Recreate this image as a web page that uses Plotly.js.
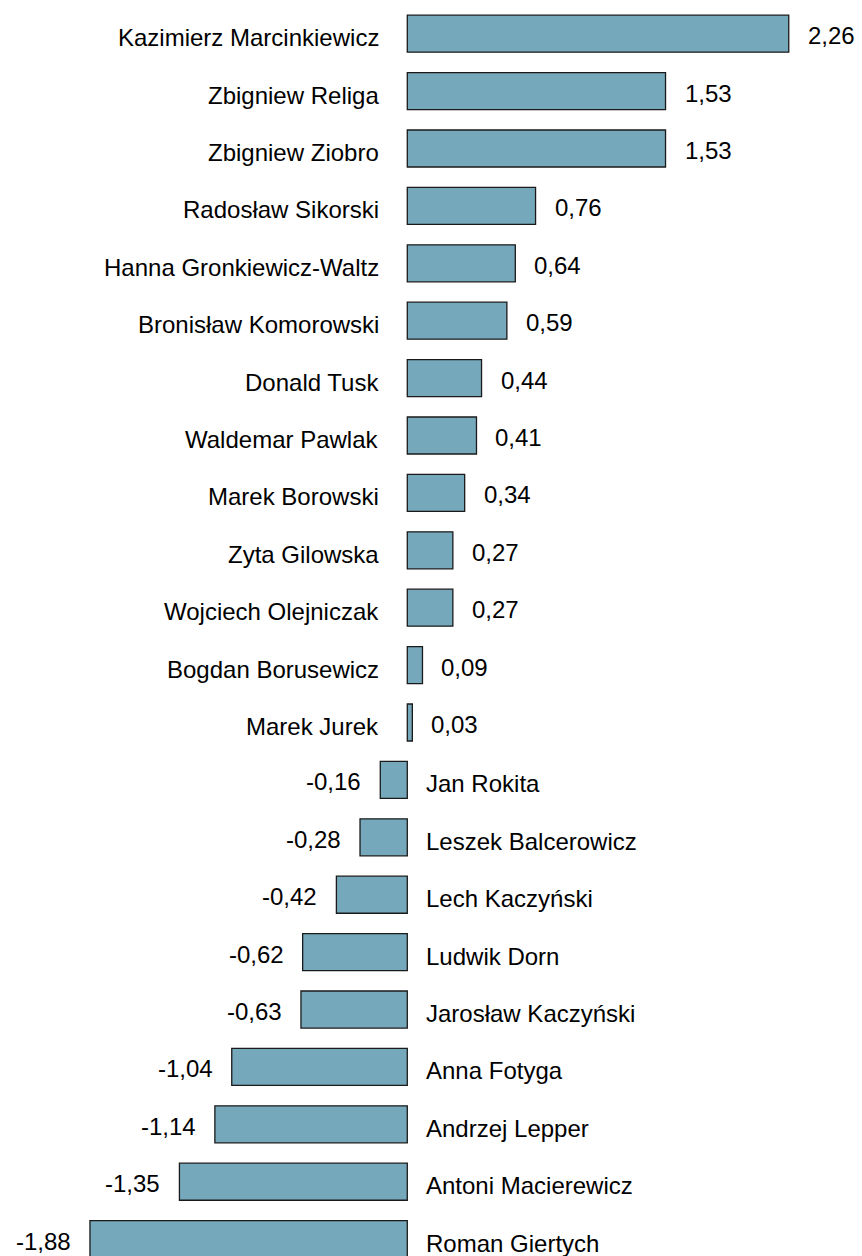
<!DOCTYPE html>
<html>
<head>
<meta charset="utf-8">
<script src="https://cdn.plot.ly/plotly-3.0.1.min.js"></script>
<style>html,body{margin:0;padding:0;background:#fff;}#chart{width:862px;height:1256px;}</style>
</head>
<body>
<div id="chart"></div>
<script>
const names = [
  "Kazimierz Marcinkiewicz","Zbigniew Religa","Zbigniew Ziobro","Radosław Sikorski",
  "Hanna Gronkiewicz-Waltz","Bronisław Komorowski","Donald Tusk","Waldemar Pawlak",
  "Marek Borowski","Zyta Gilowska","Wojciech Olejniczak","Bogdan Borusewicz",
  "Marek Jurek","Jan Rokita","Leszek Balcerowicz","Lech Kaczyński","Ludwik Dorn",
  "Jarosław Kaczyński","Anna Fotyga","Andrzej Lepper","Antoni Macierewicz","Roman Giertych"
];
const values = [
  2.26, 1.53, 1.53, 0.76, 0.64, 0.59, 0.44, 0.41, 0.34, 0.27, 0.27, 0.09,
  0.03, -0.16, -0.28, -0.42, -0.62, -0.63, -1.04, -1.14, -1.35, -1.88
];

const fmt = v => v.toFixed(2).replace('.', ',');
const font = {family: "'Liberation Sans', Arial, sans-serif", size: 24, color: '#000'};

const annotations = [];
names.forEach((n, i) => {
  const v = values[i];
  annotations.push({
    x: v, y: n, xref: 'x', yref: 'y', text: fmt(v), showarrow: false,
    xanchor: v >= 0 ? 'left' : 'right', yanchor: 'middle',
    xshift: v >= 0 ? 17 : -17, yshift: -2, font: font
  });
  annotations.push({
    x: 0, y: n, xref: 'x', yref: 'y', text: n, showarrow: false,
    xanchor: v >= 0 ? 'right' : 'left', yanchor: 'middle',
    xshift: v >= 0 ? -26 : 17, yshift: -4, font: font
  });
});

const trace = {
  type: 'bar', orientation: 'h', x: values, y: names,
  marker: {color: '#76A8BB', line: {color: '#1a1a1a', width: 1.3}},
  hoverinfo: 'none', cliponaxis: true
};

const layout = {
  width: 862, height: 1256,
  margin: {l: 0, r: 0, t: 0, b: 0},
  paper_bgcolor: '#fff', plot_bgcolor: '#fff',
  showlegend: false, bargap: 0.355,
  xaxis: {range: [-2.413, 2.694], visible: false, zeroline: false, showgrid: false, fixedrange: true},
  yaxis: {type: 'category', range: [21.294, -0.587], autorange: false, visible: false, zeroline: false, showgrid: false, fixedrange: true},
  annotations: annotations
};

Plotly.newPlot('chart', [trace], layout, {staticPlot: true, displayModeBar: false});
</script>
</body>
</html>
